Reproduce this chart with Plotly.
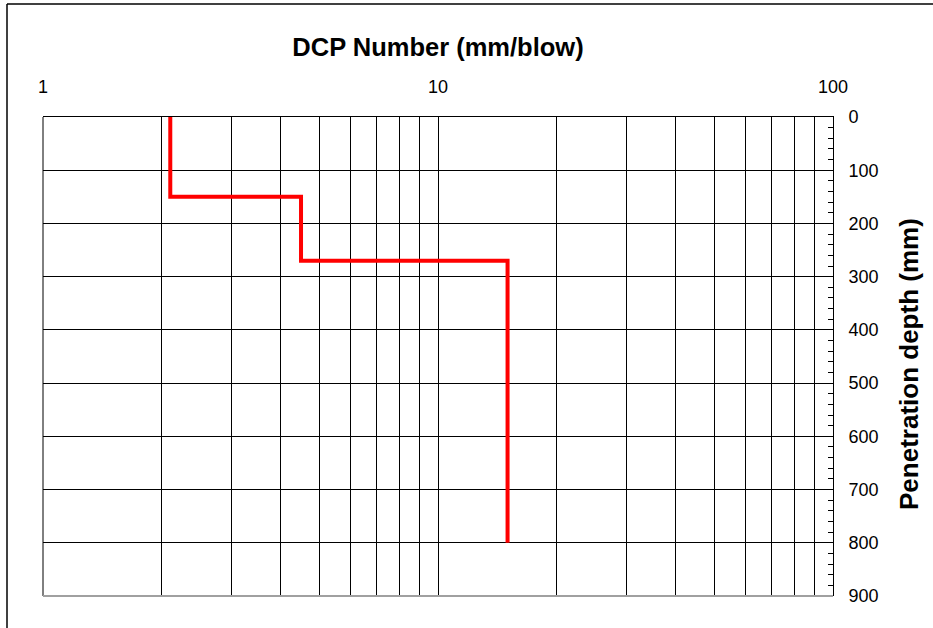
import plotly.graph_objects as go

# Layer data
layer_top_depth = [0, 150, 270]      # mm
layer_bottom_depth = [150, 270, 800] # mm
dcp_values = [2.1, 4.5, 15.0]        # mm/blow

x_tick_vals = [1, 10, 100]
x_tick_text = ["1", "10", "100"]
x_minor_vals = [2, 3, 4, 5, 6, 7, 8, 9, 20, 30, 40, 50, 60, 70, 80, 90]

x_title = "DCP Number (mm/blow)"
y_title = "Penetration depth (mm)"

# Build step profile from the layer arrays
xs, ys = [], []
for d, top, bot in zip(dcp_values, layer_top_depth, layer_bottom_depth):
    xs += [d, d]
    ys += [top, bot]

W, H = 933, 628
L, R, T, B = 43, 100, 117, 32
pw, ph = W - L - R, H - T - B

fig = go.Figure()
fig.add_trace(go.Scatter(x=xs, y=ys, mode="lines",
                         line=dict(color="#ff0000", width=4),
                         showlegend=False, hoverinfo="skip"))

font_family = "Arial, Liberation Sans, sans-serif"

fig.update_layout(
    width=W, height=H,
    margin=dict(l=L, r=R, t=T, b=B, autoexpand=False),
    paper_bgcolor="white", plot_bgcolor="white",
    font=dict(family=font_family, size=18, color="black"),
    xaxis=dict(
        type="log", side="top", range=[0, 2],
        tickmode="array", tickvals=x_tick_vals, ticktext=x_tick_text,
        ticks="", ticklabelstandoff=16,
        showgrid=True, gridcolor="black", gridwidth=1,
        minor=dict(tickmode="array", tickvals=x_minor_vals, showgrid=True,
                   gridcolor="black", gridwidth=1, ticks=""),
        showline=True, linecolor="black", linewidth=1,
        zeroline=False,
        title=dict(text="<b>" + x_title + "</b>", font=dict(size=25.5), standoff=12),
    ),
    yaxis=dict(
        side="right", range=[900, 0],
        tickmode="linear", tick0=0, dtick=100,
        ticks="inside", ticklen=5, tickcolor="black",
        showgrid=True, gridcolor="black", gridwidth=1,
        minor=dict(dtick=20, ticks="inside", ticklen=5, tickcolor="black", showgrid=False),
        showline=True, linecolor="black", linewidth=1,
        zeroline=False,
        ticklabelstandoff=11,
    ),
    annotations=[
        dict(text="<b>" + y_title + "</b>", xref="paper", yref="paper",
             x=(909 - L) / pw, y=1 - (364 - T) / ph,
             xanchor="center", yanchor="middle", textangle=-90,
             showarrow=False, font=dict(size=26)),
    ],
    shapes=[
        # left plot border
        dict(type="line", xref="paper", yref="paper", x0=0, x1=0, y0=0, y1=1,
             line=dict(color="black", width=1)),
        # bottom plot border (gray)
        dict(type="line", xref="paper", yref="paper", x0=0, x1=1, y0=0, y1=0,
             line=dict(color="#a0a0a0", width=2)),
        # outer frame: left
        dict(type="line", xref="paper", yref="paper",
             x0=(7 - L) / pw, x1=(7 - L) / pw, y0=-(B + 5) / ph, y1=1 + (T - 4) / ph,
             line=dict(color="black", width=1.5)),
        # outer frame: top
        dict(type="line", xref="paper", yref="paper",
             x0=(7 - L) / pw, x1=1 + (R + 5) / pw, y0=1 + (T - 4) / ph, y1=1 + (T - 4) / ph,
             line=dict(color="black", width=1.5)),
    ],
)

fig.write_html("out.html", config={"displayModeBar": False},
               post_script="document.body.style.margin='0';")
